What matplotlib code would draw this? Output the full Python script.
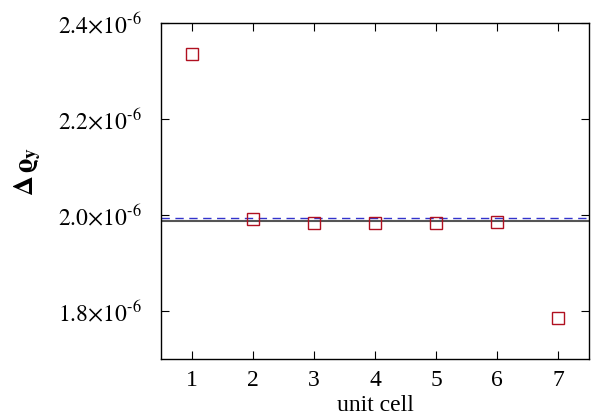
import matplotlib
matplotlib.use("Agg")
import matplotlib.pyplot as plt
import matplotlib.ticker as mticker

plt.rcParams["font.family"] = "Liberation Serif"
plt.rcParams["mathtext.fontset"] = "stix"

# data
cells = [1, 2, 3, 4, 5, 6, 7]
delta_rho = [2.335e-6, 1.992e-6, 1.9835e-6, 1.9835e-6, 1.9835e-6, 1.9855e-6, 1.785e-6]
ref_solid = 1.9867e-6
ref_dashed = 1.9937e-6
yticks = [1.8e-6, 2.0e-6, 2.2e-6, 2.4e-6]

fig = plt.figure(figsize=(5.91, 4.2), dpi=100)
ax = fig.add_axes([0.2724, 0.1452, 0.7242, 0.7998])

ax.axhline(ref_solid, color="#555555", lw=1.5, zorder=1)
ax.axhline(ref_dashed, color="#3333cc", lw=1.0, ls=(0, (6, 4)), zorder=2)
ax.plot(cells, delta_rho, ls="none", marker="s", ms=8.5, mfc="none",
        mec="#b01020", mew=1.0, zorder=3)

ax.set_xlim(0.5, 7.5)
ax.set_ylim(1.7e-6, 2.4e-6)
ax.set_xticks(cells)
ax.set_yticks(yticks)
ax.yaxis.set_major_formatter(mticker.FuncFormatter(
    lambda v, _: r"$%.1f{\times}10^{\text{-6}}$" % (v * 1e6)))
ax.tick_params(axis="both", direction="in", top=True, right=True, length=6,
               labelsize=17)
ax.tick_params(axis="y", pad=14)
ax.tick_params(axis="x", pad=8)
ax.set_xlabel("unit cell", fontsize=17, labelpad=3)
ax.set_ylabel(r"$\mathbf{\Delta}\,\boldsymbol{\varrho}_{\mathbf{y}}$", fontsize=20)
ax.yaxis.set_label_coords(-0.275, 0.56)
for s in ax.spines.values():
    s.set_linewidth(1.0)

fig.savefig("out.png", dpi=100)
